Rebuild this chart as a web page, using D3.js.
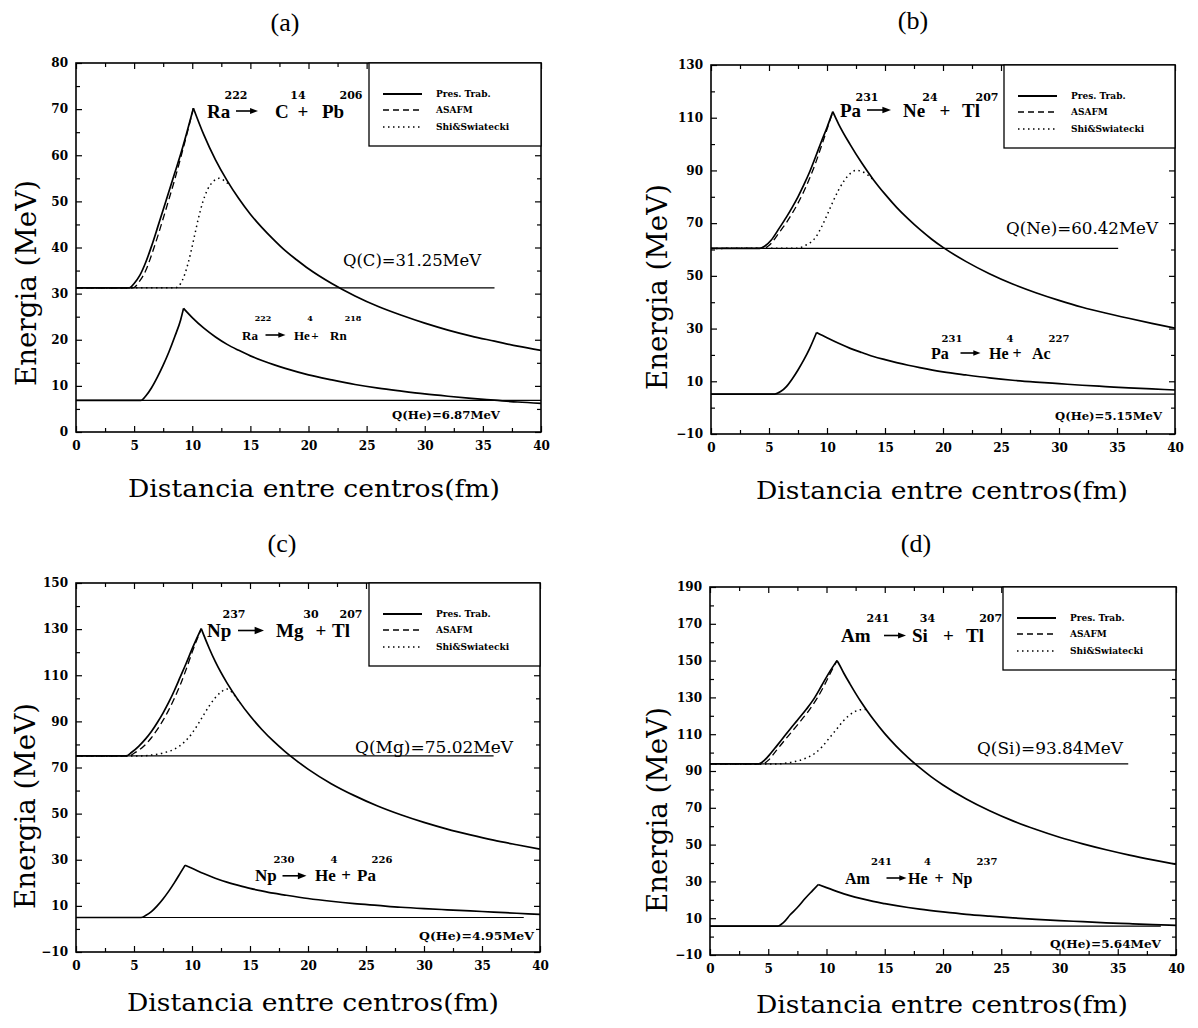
<!DOCTYPE html>
<html>
<head>
<meta charset="utf-8">
<script src="https://cdn.jsdelivr.net/npm/d3@7"></script>
<style>
  body { margin: 0; background: #fff; }
  svg { display: block; }
</style>
</head>
<body>
<svg id="chart" width="1198" height="1028"></svg>
<script>
// ---------------- data ----------------
const panelLetters = ["(a)", "(b)", "(c)", "(d)"];
const xTickLabels = [0, 5, 10, 15, 20, 25, 30, 35, 40];
const xMinorTicks = [2.5, 7.5, 12.5, 17.5, 22.5, 27.5, 32.5, 37.5];
const yDomains = [[0, 80], [-10, 130], [-10, 150], [-10, 190]];
const yTicksA = [0, 10, 20, 30, 40, 50, 60, 70, 80];
const yMinorA = [5, 15, 25, 35, 45, 55, 65, 75];
const yTicksB = [-10, 10, 30, 50, 70, 90, 110, 130];
const yMinorB = [0, 20, 40, 60, 80, 100, 120];
const yTicksC = [-10, 10, 30, 50, 70, 90, 110, 130, 150];
const yMinorC = [0, 20, 40, 60, 80, 100, 120, 140];
const yTicksD = [-10, 10, 30, 50, 70, 90, 110, 130, 150, 170, 190];
const yMinorD = [0, 20, 40, 60, 80, 100, 120, 140, 160, 180];

const legendLabels = ["Pres. Trab.", "ASAFM", "Shi&Swiatecki"];

// cluster decays
const parentNames = ["Ra", "Pa", "Np", "Am"];
const parentMass = ["222", "231", "237", "241"];
const clusterNames = ["C", "Ne", "Mg", "Si"];
const clusterMass = ["14", "24", "30", "34"];
const daughterNames = ["Pb", "Tl", "Tl", "Tl"];
const daughterMass = ["206", "207", "207", "207"];
// alpha decays
const alphaParentMass = ["222", "231", "230", "241"];
const alphaDaughterNames = ["Rn", "Ac", "Pa", "Np"];
const alphaDaughterMass = ["218", "227", "226", "237"];

// Q values (MeV) and where their reference lines stop (fm)
const qCluster = [31.25, 60.42, 75.02, 93.84];
const qAlpha = [6.87, 5.15, 4.95, 5.64];
const qClusterEnd = [36, 35.1, 36, 35.9];
const qAlphaEnd = [40, 40, 38.6, 38.7];

// (a) 222Ra
const raPresRise = [[0,31.25],[4.6,31.25],[5.0,32.2],[5.5,34],[6.0,36.8],[6.5,40.3],[7.0,44.2],[7.5,48.2],[8.0,52.2],[8.5,56.2],[9.0,60.2],[9.5,64.6],[10.1,70.2]];
const raPresTail = [[10.1,70.2],[11,64.4],[12,59],[13,54.5],[14,50.6],[15,47.2],[16,44.3],[17,41.7],[18,39.3],[19,37.3],[20,35.4],[22,32.2],[24,29.5],[26,27.2],[28,25.3],[30,23.6],[32,22.1],[34,20.8],[36,19.7],[38,18.6],[40,17.7]];
const raAsafmRise = [[0,31.25],[4.9,31.25],[5.5,32.8],[6.0,35],[6.5,38.4],[7.0,42.2],[7.5,46.3],[8.0,50.5],[8.5,54.8],[9.0,59.4],[9.5,64.2],[10.1,70.2]];
const raShi = [[0,31.25],[8.6,31.3],[9.0,32.2],[9.3,33.8],[9.6,36.2],[9.9,39.2],[10.2,42.6],[10.5,46],[10.9,49.8],[11.3,52.5],[11.8,54.3],[12.3,55],[12.8,54.4],[13.2,53.6]];
const raAlphaRise = [[0,6.87],[5.6,6.87],[6.0,7.8],[6.5,9.6],[7.0,11.9],[7.5,14.5],[8.0,17.4],[8.5,20.7],[9.0,24.3],[9.25,26.8]];
const raAlphaTail = [[9.25,26.8],[10,24.8],[11,22.5],[12,20.6],[13,19.0],[14,17.7],[15,16.5],[16,15.5],[17,14.6],[18,13.8],[20,12.4],[22,11.3],[24,10.3],[26,9.5],[28,8.85],[30,8.25],[32,7.75],[34,7.3],[36,6.9],[38,6.5],[40,6.2]];

// (b) 231Pa
const paPresRise = [[0,60.42],[4.2,60.42],[4.7,61.5],[5.2,63.6],[5.9,68.2],[6.5,72.3],[7.0,76],[7.5,80],[8.0,84.5],[8.5,89.4],[9.0,95],[9.5,100.8],[10.0,106.3],[10.5,112.3]];
const paPresTail = [[10.5,112.3],[11,107.6],[12,99.8],[13,92.8],[14,86.5],[15,81],[16,76],[17,71.6],[18,67.6],[19,64],[20,60.8],[22,55.4],[24,50.8],[26,46.9],[28,43.6],[30,40.7],[32,38.1],[34,35.9],[36,33.9],[38,32],[40,30.2]];
const paAsafmRise = [[0,60.42],[4.5,60.42],[5.0,61.5],[5.9,66.6],[6.5,70.2],[7.0,73.7],[7.5,77.6],[8.0,82],[8.5,87],[9.0,92.6],[9.5,99],[10.0,105.6],[10.5,112.3]];
const paShi = [[0,60.42],[7.4,60.5],[8.2,61.7],[9.0,64.5],[9.5,68.3],[10.0,73],[10.5,78],[11.0,82.6],[11.5,86.2],[12.0,88.8],[12.5,90],[13.0,89.6],[13.5,88.3],[14.0,86.5]];
const paAlphaRise = [[0,5.15],[5.5,5.15],[6.0,6.1],[6.5,8],[7.0,10.9],[7.5,14.3],[8.0,18.1],[8.5,22.4],[9.1,28.5]];
const paAlphaTail = [[9.1,28.5],[10,26.5],[11,24.4],[12,22.5],[13,20.9],[14,19.4],[15,18.2],[16,17.1],[17,16.1],[18,15.2],[20,13.6],[22,12.4],[24,11.3],[26,10.4],[28,9.7],[30,9.1],[32,8.5],[34,8],[36,7.5],[38,7.1],[40,6.7]];

// (c) 237Np
const npPresRise = [[0,75.02],[4.3,75.02],[4.8,76.6],[5.4,79.2],[6.0,82.4],[6.5,85.6],[7.0,89.4],[7.5,93.6],[8.0,98.3],[8.5,103.6],[9.0,109.4],[9.5,115.2],[10.0,121.3],[10.8,130.2]];
const npPresTail = [[10.8,130.2],[11,127.6],[11.5,121.5],[12,116],[13,106.8],[14,99.1],[15,92.4],[16,86.6],[17,81.5],[18,77],[19,73],[20,69.3],[22,63],[24,57.8],[26,53.3],[28,49.5],[30,46.2],[32,43.3],[34,40.8],[36,38.5],[38,36.5],[40,34.6]];
const npAsafmRise = [[0,75.02],[4.6,75.02],[5.0,76.2],[5.5,77.8],[6.0,80],[6.5,82.9],[7.0,86.4],[7.5,90.4],[8.0,95],[8.5,100.2],[9.0,106],[9.5,112.6],[10.0,119.8],[10.8,130.2]];
const npShi = [[0,75.02],[5.5,75.02],[6.5,75.4],[7.5,76.3],[8.5,78],[9.0,79.6],[9.5,81.8],[10.0,84.8],[10.5,88.6],[11.0,92.8],[11.5,96.8],[12.0,100.2],[12.5,102.7],[13.0,104],[13.5,102.4],[14.0,98.9],[14.2,97.7]];
const npAlphaRise = [[0,4.95],[5.6,4.95],[6.0,5.8],[6.5,7.5],[7.0,10],[7.5,13],[8.0,16.4],[8.5,20.2],[9.0,24.3],[9.4,27.6]];
const npAlphaTail = [[9.4,27.6],[10,26.3],[11,24],[12,22],[13,20.3],[14,18.9],[15,17.6],[16,16.5],[17,15.5],[18,14.7],[20,13.2],[22,12],[24,11],[26,10.2],[28,9.4],[30,8.8],[32,8.3],[34,7.8],[36,7.3],[38,6.8],[40,6.3]];

// (d) 241Am
const amPresRise = [[0,93.84],[4.2,93.84],[4.7,96],[5.2,99.5],[5.7,103.4],[6.3,108.2],[6.9,113],[7.5,117.6],[8.3,123.8],[9.0,130],[9.6,136.6],[10.2,143.2],[10.9,150]];
const amPresTail = [[10.9,150],[11,149],[11.5,143],[12,137.5],[12.5,132.2],[13,127.2],[13.5,122.6],[14,118.2],[15,110.3],[16,103.4],[17,97.3],[18,91.8],[19,86.8],[20,82.4],[22,74.8],[24,68.4],[26,62.9],[28,58.2],[30,54],[32,50.4],[34,47.2],[36,44.3],[38,41.7],[40,39.3]];
const amAsafmRise = [[0,93.84],[4.5,93.84],[5.0,95.8],[5.7,101.2],[6.5,107.4],[7.6,115.8],[8.5,123],[9.2,129.6],[9.8,136.4],[10.3,142.8],[10.9,150]];
const amShi = [[0,93.84],[5.5,93.84],[6.3,94.1],[7.2,95],[8.2,96.9],[9.0,99.6],[9.6,103],[10.2,107.6],[10.9,113],[11.4,116.9],[11.9,120],[12.4,122.2],[12.9,123.3],[13.4,123.5]];
const amAlphaRise = [[0,5.64],[5.8,5.64],[6.3,7.6],[6.9,12],[7.5,15.8],[8.2,21],[8.8,25],[9.3,28.3]];
const amAlphaTail = [[9.3,28.3],[10,26.6],[11,24.3],[12,22.3],[13,20.6],[14,19.1],[15,17.9],[16,16.8],[17,15.8],[18,14.9],[20,13.4],[22,12.1],[24,11.1],[26,10.2],[28,9.4],[30,8.7],[32,8.1],[34,7.5],[36,7],[38,6.5],[40,6.1]];

// ---------------- assembly ----------------
const yTickSets = [yTicksA, yTicksB, yTicksC, yTicksD];
const yMinorSets = [yMinorA, yMinorB, yMinorC, yMinorD];
const presSeries = [[raPresRise, raPresTail], [paPresRise, paPresTail], [npPresRise, npPresTail], [amPresRise, amPresTail]];
const asafmSeries = [[raAsafmRise], [paAsafmRise], [npAsafmRise], [amAsafmRise]];
const shiSeries = [[raShi], [paShi], [npShi], [amShi]];
const alphaSeries = [[raAlphaRise, raAlphaTail], [paAlphaRise, paAlphaTail], [npAlphaRise, npAlphaTail], [amAlphaRise, amAlphaTail]];

// layout: plot rectangle [left, top, right, bottom] and label placement (px, relative to plot left/top where noted)
const layouts = [
  { rect: [76, 63, 541, 432], title: [285, 22], yLab: [26, 283], xLab: [314, 488],
    main: { names: [131, 199, 246], arrow: 171, plus: 227, sups: [160, 222, 275], y: 48, supY: 32, size: 19, supSize: 11, alen: 22 },
    alpha: { names: [166, 218, 254], arrow: 199.5, plus: 239, sups: [187, 234, 277], y: 272, supY: 255, size: 13, supSize: 8, alen: 20 },
    qc: [267, 197, 138], qa: [316, 352, 108] },
  { rect: [711, 65, 1175, 434], title: [913, 20], yLab: [657, 287], xLab: [942, 490],
    main: { names: [129, 192, 251], arrow: 168, plus: 234, sups: [156, 219, 276], y: 45, supY: 32, size: 19, supSize: 11, alen: 24 },
    alpha: { names: [220, 278, 321], arrow: 259.5, plus: 306, sups: [241, 299, 348], y: 288, supY: 273, size: 16, supSize: 10, alen: 20 },
    qc: [295, 163, 152], qa: [344, 351, 107] },
  { rect: [76, 583, 540, 952], title: [282, 543], yLab: [25, 806], xLab: [313, 1002],
    main: { names: [131, 200, 256], arrow: 175, plus: 245, sups: [158, 235, 275], y: 47.5, supY: 31.5, size: 19, supSize: 11, alen: 26 },
    alpha: { names: [179, 239, 281], arrow: 218.5, plus: 270, sups: [208, 258, 306], y: 292.8, supY: 276, size: 17, supSize: 10, alen: 24 },
    qc: [279, 164, 158], qa: [343, 353, 115] },
  { rect: [710, 587, 1176, 955], title: [916, 543], yLab: [657, 810], xLab: [942, 1004],
    main: { names: [131, 202, 256], arrow: 185, plus: 238.5, sups: [168, 217.5, 280.7], y: 48.5, supY: 31, size: 19, supSize: 11, alen: 22 },
    alpha: { names: [135, 198, 242], arrow: 186.5, plus: 229, sups: [171.5, 217.5, 277], y: 291, supY: 274.5, size: 16, supSize: 10, alen: 20 },
    qc: [267, 161.5, 146], qa: [340, 357.6, 111] }
];

const SERIF = "'Liberation Serif', 'Times New Roman', serif";
const DSERIF = "'DejaVu Serif', serif";
const svg = d3.select("#chart");
svg.append("rect").attr("width", 1198).attr("height", 1028).attr("fill", "#fff");

function drawArrow(g, cx, cy, len) {
  const head = len * 0.36, half = len * 0.14;
  g.append("line")
    .attr("x1", cx - len / 2).attr("x2", cx + len / 2 - head + 1)
    .attr("y1", cy).attr("y2", cy)
    .attr("stroke", "#000").attr("stroke-width", 1.6);
  g.append("path")
    .attr("d", `M${cx + len / 2 - head},${cy - half}L${cx + len / 2},${cy}L${cx + len / 2 - head},${cy + half}Z`)
    .attr("fill", "#000");
}

function drawReaction(g, L, T, spec, names, masses) {
  names.forEach((n, k) => {
    g.append("text").attr("x", L + spec.names[k]).attr("y", T + spec.y)
      .attr("dominant-baseline", "central")
      .attr("font-family", SERIF).attr("font-weight", "bold")
      .attr("font-size", spec.size).text(n);
  });
  masses.forEach((m, k) => {
    g.append("text").attr("x", L + spec.sups[k]).attr("y", T + spec.supY)
      .attr("text-anchor", "middle").attr("dominant-baseline", "central")
      .attr("font-family", DSERIF).attr("font-weight", "bold")
      .attr("font-size", spec.supSize).text(m);
  });
  drawArrow(g, L + spec.arrow, T + spec.y, spec.alen);
  g.append("text").attr("x", L + spec.plus).attr("y", T + spec.y)
    .attr("text-anchor", "middle").attr("dominant-baseline", "central")
    .attr("font-family", SERIF).attr("font-weight", "bold")
    .attr("font-size", spec.size).text("+");
}

layouts.forEach((lay, i) => {
  const [L, T, R, B] = lay.rect;
  const x = d3.scaleLinear().domain([0, 40]).range([L, R]);
  const y = d3.scaleLinear().domain(yDomains[i]).range([B, T]);
  const g = svg.append("g");

  // panel title
  g.append("text").attr("x", lay.title[0]).attr("y", lay.title[1])
    .attr("text-anchor", "middle").attr("dominant-baseline", "central")
    .attr("font-family", SERIF).attr("font-size", 26).text(panelLetters[i]);

  // axes with inward ticks on all four sides
  const styleAxis = sel => {
    sel.select(".domain").remove();
    sel.selectAll(".tick line").attr("stroke", "#000").attr("stroke-width", 1.2);
    sel.selectAll("text").attr("font-family", DSERIF).attr("font-weight", "bold")
      .attr("font-size", 12).attr("fill", "#000");
  };
  g.append("g").attr("transform", `translate(0,${B})`)
    .call(d3.axisBottom(x).tickValues(xTickLabels).tickSize(-6).tickPadding(9).tickFormat(d3.format("d"))).call(styleAxis);
  g.append("g").attr("transform", `translate(0,${B})`)
    .call(d3.axisBottom(x).tickValues(xMinorTicks).tickSize(-4).tickFormat("")).call(styleAxis);
  g.append("g").attr("transform", `translate(0,${T})`)
    .call(d3.axisTop(x).tickValues(xTickLabels).tickSize(-6).tickFormat("")).call(styleAxis);
  g.append("g").attr("transform", `translate(0,${T})`)
    .call(d3.axisTop(x).tickValues(xMinorTicks).tickSize(-4).tickFormat("")).call(styleAxis);
  g.append("g").attr("transform", `translate(${L},0)`)
    .call(d3.axisLeft(y).tickValues(yTickSets[i]).tickSize(-6).tickPadding(8).tickFormat(d3.format("d"))).call(styleAxis);
  g.append("g").attr("transform", `translate(${L},0)`)
    .call(d3.axisLeft(y).tickValues(yMinorSets[i]).tickSize(-4).tickFormat("")).call(styleAxis);
  g.append("g").attr("transform", `translate(${R},0)`)
    .call(d3.axisRight(y).tickValues(yTickSets[i]).tickSize(-6).tickFormat("")).call(styleAxis);
  g.append("g").attr("transform", `translate(${R},0)`)
    .call(d3.axisRight(y).tickValues(yMinorSets[i]).tickSize(-4).tickFormat("")).call(styleAxis);

  // frame
  g.append("rect").attr("x", L).attr("y", T).attr("width", R - L).attr("height", B - T)
    .attr("fill", "none").attr("stroke", "#000").attr("stroke-width", 1.6);

  // axis titles
  g.append("text").attr("transform", `translate(${lay.yLab[0]},${lay.yLab[1]}) rotate(-90)`)
    .attr("text-anchor", "middle").attr("dominant-baseline", "central")
    .attr("font-family", DSERIF).attr("font-size", 27)
    .attr("textLength", 206).attr("lengthAdjust", "spacingAndGlyphs").text("Energia (MeV)");
  g.append("text").attr("x", lay.xLab[0]).attr("y", lay.xLab[1])
    .attr("text-anchor", "middle").attr("dominant-baseline", "central")
    .attr("font-family", DSERIF).attr("font-size", 25)
    .attr("textLength", 372).attr("lengthAdjust", "spacingAndGlyphs").text("Distancia entre centros(fm)");

  // plotted curves
  const clipId = "clip" + i;
  svg.append("clipPath").attr("id", clipId).append("rect")
    .attr("x", L).attr("y", T).attr("width", R - L).attr("height", B - T);
  const plot = g.append("g").attr("clip-path", `url(#${clipId})`);
  const line = d3.line().x(d => x(d[0])).y(d => y(d[1])).curve(d3.curveMonotoneX);

  // Q reference lines
  plot.append("line").attr("x1", x(0)).attr("x2", x(qClusterEnd[i]))
    .attr("y1", y(qCluster[i])).attr("y2", y(qCluster[i]))
    .attr("stroke", "#000").attr("stroke-width", 1.2);
  plot.append("line").attr("x1", x(0)).attr("x2", x(qAlphaEnd[i]))
    .attr("y1", y(qAlpha[i])).attr("y2", y(qAlpha[i]))
    .attr("stroke", "#000").attr("stroke-width", 1.2);

  shiSeries[i].forEach(s => plot.append("path").attr("d", line(s)).attr("fill", "none")
    .attr("stroke", "#000").attr("stroke-width", 1.5).attr("stroke-dasharray", "1.5,3.5"));
  asafmSeries[i].forEach(s => plot.append("path").attr("d", line(s)).attr("fill", "none")
    .attr("stroke", "#000").attr("stroke-width", 1.3).attr("stroke-dasharray", "7,4"));
  presSeries[i].forEach(s => plot.append("path").attr("d", line(s)).attr("fill", "none")
    .attr("stroke", "#000").attr("stroke-width", 1.7));
  alphaSeries[i].forEach(s => plot.append("path").attr("d", line(s)).attr("fill", "none")
    .attr("stroke", "#000").attr("stroke-width", 1.7));

  // legend
  const lg = g.append("g");
  lg.append("rect").attr("x", L + 293).attr("y", T).attr("width", R - L - 293).attr("height", 83)
    .attr("fill", "#fff").attr("stroke", "#000").attr("stroke-width", 1.3);
  const dashes = [null, "6,4", "1.5,3.5"];
  const widths = [2.2, 1.6, 1.5];
  [31, 47, 64].forEach((dy, k) => {
    const ln = lg.append("line").attr("x1", L + 307).attr("x2", L + 346)
      .attr("y1", T + dy).attr("y2", T + dy)
      .attr("stroke", "#000").attr("stroke-width", widths[k]);
    if (dashes[k]) ln.attr("stroke-dasharray", dashes[k]);
    lg.append("text").attr("x", L + 360).attr("y", T + dy)
      .attr("dominant-baseline", "central")
      .attr("font-family", DSERIF).attr("font-weight", "bold").attr("font-size", 9)
      .text(legendLabels[k]);
  });

  // reaction labels
  drawReaction(g, L, T, lay.main,
    [parentNames[i], clusterNames[i], daughterNames[i]],
    [parentMass[i], clusterMass[i], daughterMass[i]]);
  drawReaction(g, L, T, lay.alpha,
    [parentNames[i], "He", alphaDaughterNames[i]],
    [alphaParentMass[i], "4", alphaDaughterMass[i]]);

  // Q labels
  g.append("text").attr("x", L + lay.qc[0]).attr("y", T + lay.qc[1])
    .attr("dominant-baseline", "central")
    .attr("font-family", DSERIF).attr("font-size", 16)
    .attr("textLength", lay.qc[2]).attr("lengthAdjust", "spacingAndGlyphs")
    .text(`Q(${clusterNames[i]})=${qCluster[i].toFixed(2)}MeV`);
  g.append("text").attr("x", L + lay.qa[0]).attr("y", T + lay.qa[1])
    .attr("dominant-baseline", "central")
    .attr("font-family", DSERIF).attr("font-weight", "bold").attr("font-size", 11)
    .attr("textLength", lay.qa[2]).attr("lengthAdjust", "spacingAndGlyphs")
    .text(`Q(He)=${qAlpha[i].toFixed(2)}MeV`);
});
</script>
</body>
</html>
